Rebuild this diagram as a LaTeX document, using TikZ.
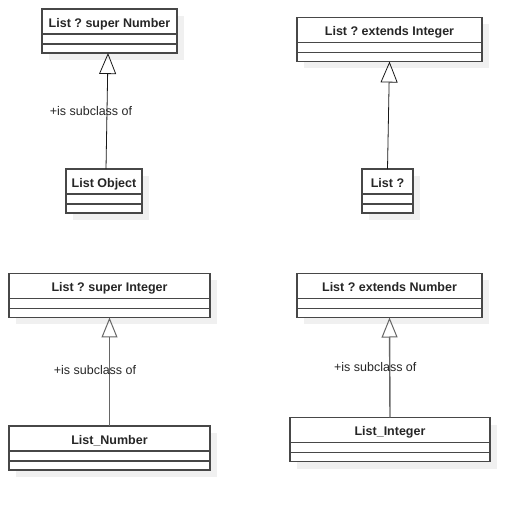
\documentclass[tikz,border=0pt]{standalone}
\usepackage{fontspec}
\setmainfont{Liberation Sans}
\usetikzlibrary{arrows.meta, positioning, shadows}
\frenchspacing

\begin{document}
\begin{tikzpicture}[x=1pt, y=-1pt,
  every node/.style={font=\fontsize{12.5}{15}\selectfont, text=black!85},
  cls/.style={rectangle, draw=black!72, fill=white, line width=1.1pt, minimum width=#1, minimum height=25pt, inner sep=0pt, outer sep=0pt, text height=11.6pt, text depth=0pt, font=\fontsize{12.5}{15}\selectfont\bfseries, drop shadow={shadow xshift=7pt, shadow yshift=-7pt, fill=black!6, opacity=1}},
  cpa/.style={cls=#1, minimum height=10pt, text height=0pt},
  cpb/.style={cls=#1, minimum height=9pt, text height=0pt},
  gen/.style={-{Triangle[open, length=21pt, width=17pt]}, line width=0.8pt, black!90},
  genb/.style={gen, black!60, line width=1.4pt, -{Triangle[open, length=20pt, width=16pt, line width=1pt]}},
  lbl/.style={inner sep=0pt},
]
\useasboundingbox (0,0) rectangle (530,510);

% top left
\node[cls=135pt] (sn) at (109.5,21.5) {List ? super Number};
\node[cpa=135pt, below=0pt of sn] (sna) {};
\node[cpb=135pt, below=0pt of sna] (snb) {};
\node[cls=76pt] (lo) at (104,181.5) {List Object};
\node[cpa=76pt, below=0pt of lo] (loa) {};
\node[cpb=76pt, below=0pt of loa] (lob) {};

% top right
\node[cls=185pt] (ei) at (389.5,30) {List ? extends Integer};
\node[cpa=185pt, below=0pt of ei] (eia) {};
\node[cpb=185pt, below=0pt of eia] (eib) {};
\node[cls=51pt] (lq) at (387.5,181.5) {List ?};
\node[cpa=51pt, below=0pt of lq] (lqa) {};
\node[cpb=51pt, below=0pt of lqa] (lqb) {};

% bottom left
\node[cls=201pt] (si) at (109.5,286) {List ? super Integer};
\node[cpa=201pt, below=0pt of si] (sia) {};
\node[cpb=201pt, below=0pt of sia] (sib) {};
\node[cls=201pt] (ln) at (109.5,438.5) {List\_Number};
\node[cpa=201pt, below=0pt of ln] (lna) {};
\node[cpb=201pt, below=0pt of lna] (lnb) {};

% bottom right
\node[cls=185pt] (en) at (389.5,286) {List ? extends Number};
\node[cpa=185pt, below=0pt of en] (ena) {};
\node[cpb=185pt, below=0pt of ena] (enb) {};
\node[cls=200pt] (li) at (390,430) {List\_Integer};
\node[cpa=200pt, below=0pt of li] (lia) {};
\node[cpb=200pt, below=0pt of lia] (lib) {};

\draw[gen] ([xshift=2pt]lo.north) -- node[lbl, pos=0.5, xshift=-16pt] {+is subclass of} ([xshift=-1.5pt]snb.south);
\draw[gen] (lq.north) -- (eib.south);
\draw[genb] (ln.north) -- node[lbl, pos=0.52, xshift=-14.5pt] {+is subclass of} (sib.south);
\draw[genb] (li.north) -- node[lbl, pos=0.5, xshift=-14.5pt] {+is subclass of} (enb.south);
\end{tikzpicture}
\end{document}
